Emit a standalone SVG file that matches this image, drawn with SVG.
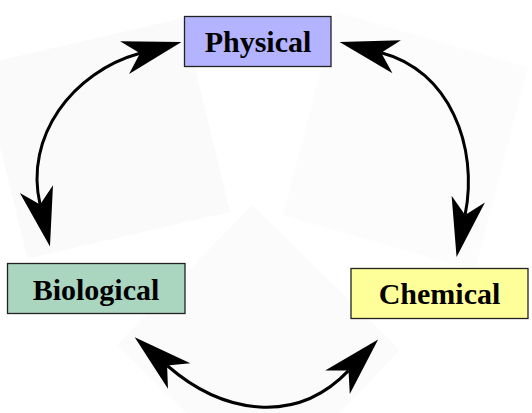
<svg xmlns="http://www.w3.org/2000/svg" width="532" height="413" viewBox="0 0 532 413">
  <style>
    .panel { stroke: none; }
    .box { stroke: #222; stroke-width: 1.3; }
    .label { font-family: "Liberation Serif", "Times New Roman", serif; font-weight: bold; font-size: 30px; fill: #000; text-anchor: middle; }
    .conn { fill: none; stroke: #000; stroke-width: 3; marker-start: url(#head); marker-end: url(#head); }
  </style>
  <defs>
    <marker id="head" markerUnits="userSpaceOnUse" viewBox="-18 -19 63 38" refX="0" refY="0" markerWidth="63" markerHeight="38" orient="auto-start-reverse">
      <path d="M43,0 L-16,-17 L0,0 L-16,17 Z" fill="#000" stroke="none"/>
    </marker>
  </defs>
  <rect width="532" height="413" fill="#fff"/>
  <g id="background">
    <polygon class="panel" points="-20,65 183,18 230,212 27.5,258.6" fill="#fafafa"/>
    <polygon class="panel" points="336,12 528,67.4 475,270.5 283,215" fill="#fcfcfc"/>
    <polygon class="panel" points="252,205 400,350 265,490 117,345" fill="#fbfbfb"/>
  </g>
  <g id="connectors">
    <path class="conn" d="M140,53.3 C72.5,71.8 24.1,136.7 40.1,204.6"/>
    <path class="conn" d="M381.2,52.7 C449,70.1 479,146.3 465.1,214.9"/>
    <path class="conn" d="M167.1,365.5 C223.6,414.8 296.8,425 348.5,370.6"/>
  </g>
  <g id="physical">
    <rect class="box" x="184.5" y="16.5" width="146.5" height="50" fill="#b3b3ff"/>
    <text class="label" x="258" y="52">Physical</text>
  </g>
  <g id="biological">
    <rect class="box" x="7.5" y="263.5" width="177.5" height="50" fill="#aad6c0"/>
    <text class="label" x="96" y="299.5">Biological</text>
  </g>
  <g id="chemical">
    <rect class="box" x="351" y="268.5" width="177" height="50" fill="#ffff99"/>
    <text class="label" x="439.5" y="304">Chemical</text>
  </g>
</svg>
